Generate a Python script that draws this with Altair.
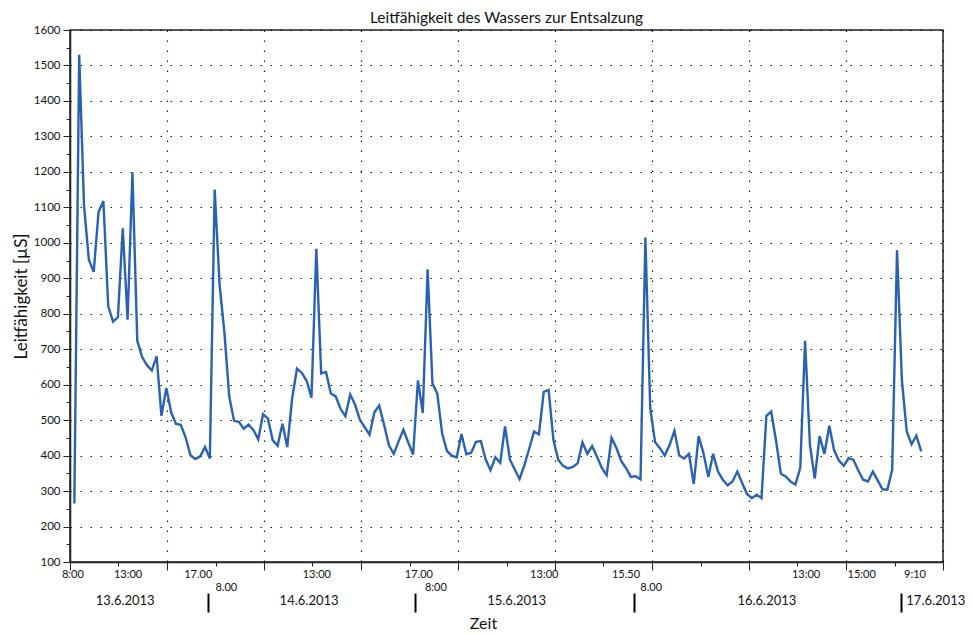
import altair as alt
import pandas as pd

# Conductivity readings (µS), one per sample, in time order
values = [
    265, 1530, 1105, 952, 918, 1087, 1118, 821, 778, 790,
    1041, 783, 1199, 724, 678, 655, 640, 680, 512, 591,
    522, 489, 487, 451, 401, 390, 398, 424, 392, 1150,
    884, 748, 567, 498, 495, 476, 487, 472, 446, 517,
    504, 443, 428, 490, 424, 561, 645, 633, 611, 563,
    983, 632, 636, 575, 567, 532, 511, 572, 544, 501,
    480, 459, 522, 541, 487, 429, 405, 440, 473, 437,
    403, 612, 520, 925, 603, 575, 462, 413, 400, 395,
    461, 404, 408, 439, 441, 389, 359, 395, 380, 482,
    389, 361, 334, 373, 420, 468, 460, 580, 585, 444,
    388, 371, 364, 368, 378, 437, 405, 427, 397, 365,
    345, 450, 422, 385, 365, 340, 342, 333, 1015, 534,
    438, 421, 400, 430, 470, 400, 392, 405, 320, 455,
    407, 340, 405, 355, 332, 316, 327, 355, 323, 292,
    280, 290, 280, 512, 524, 442, 349, 341, 327, 318,
    365, 724, 431, 335, 455, 405, 484, 415, 386, 371,
    393, 388, 358, 332, 327, 355, 330, 305, 304, 360,
    979, 614, 468, 432, 456, 412,
]
sample = list(range(len(values)))

# Axis annotation (positions in sample units)
time_pos = [-0.4, 11.0, 25.5, 50.0, 71.1, 97.0, 113.9, 151.1, 162.6, 173.6]
time_lab = ["8:00", "13:00", "17.00", "13:00", "17.00", "13:00", "15.50", "13:00", "15:00", "9:10"]
start_pos = [31.3, 74.6, 119.1]
start_lab = ["8.00", "8:00", "8.00"]
date_pos = [10.4, 48.4, 91.3, 143.0, 177.9]
date_lab = ["13.6.2013", "14.6.2013", "15.6.2013", "16.6.2013", "17.6.2013"]
sep_pos = [27.6, 70.4, 115.6, 170.8]
y_major = list(range(100, 1601, 100))
y_minor = list(range(150, 1600, 100))

x_lo, x_hi = -0.9, 179.5
step = (x_hi - x_lo) / 9
x_major = [round(x_lo + step * k, 3) for k in range(10)]
x_minor = [round(x_lo + step * (k + 0.5), 3) for k in range(9)]

df = pd.DataFrame({"t": sample, "v": values})

xscale = alt.Scale(domain=[x_lo, x_hi], nice=False, zero=False)
yscale = alt.Scale(domain=[100, 1600], nice=False, zero=False)


def lab_expr(pos, lab):
    arr = "[" + ",".join("'" + s + "'" for s in lab) + "]"
    p = "[" + ",".join(repr(float(q)) for q in pos) + "]"
    return arr + "[indexof(" + p + ", datum.value)]"


base = alt.Chart(df)

line = base.mark_line(color="#2a62b2", strokeWidth=2.4).encode(
    x=alt.X("t:Q", scale=xscale, axis=alt.Axis(
        values=x_major, labels=False, tickSize=8, grid=True, title="Zeit",
        titleX=413, titleY=53, titleFontSize=16, titleBaseline="top")),
    y=alt.Y("v:Q", scale=yscale, axis=alt.Axis(
        values=y_major, tickSize=7, grid=True, format="d", labelPadding=3,
        labelFontSize=11.5, title="Leitfähigkeit [µS]", titleX=-40, titleY=266,
        titleFontSize=17)),
)

minor = base.mark_point(opacity=0).encode(
    x=alt.X("t:Q", scale=xscale, axis=alt.Axis(
        orient="bottom", values=x_minor, labels=False, tickSize=4, grid=False,
        domain=False, title=None)),
    y=alt.Y("v:Q", scale=yscale, axis=alt.Axis(
        orient="left", values=y_minor, labels=False, tickSize=4, grid=False,
        domain=False, title=None)),
)


def label_layer(pos, lab, pad, size):
    return base.mark_point(opacity=0).encode(
        x=alt.X("t:Q", scale=xscale, axis=alt.Axis(
            orient="bottom", values=pos, labelExpr=lab_expr(pos, lab),
            ticks=False, tickSize=0, domain=False, grid=False,
            labelPadding=pad, labelFontSize=size, labelOverlap=False,
            labelFlush=False, labelBound=False, labelAngle=0, title=None)),
        y=alt.Y("v:Q", scale=yscale, axis=None),
    )


row_time = label_layer(time_pos, time_lab, 6, 11)
row_start = label_layer(start_pos, start_lab, 19, 11)
row_date = label_layer(date_pos, date_lab, 32, 13)

seps = base.mark_point(opacity=0).encode(
    x=alt.X("t:Q", scale=xscale, axis=alt.Axis(
        orient="bottom", values=sep_pos, labels=False, tickSize=19,
        tickWidth=2, tickColor="black", domain=False, grid=False, offset=31,
        title=None)),
    y=alt.Y("v:Q", scale=yscale, axis=None),
)

chart = (
    alt.layer(line, minor, row_time, row_start, row_date, seps)
    .resolve_axis(x="independent", y="independent")
    .properties(
        width=873, height=532,
        autosize=alt.AutoSizeParams(type="none"),
        padding={"left": 62, "top": 22, "right": 24, "bottom": 70},
        title=alt.TitleParams("Leitfähigkeit des Wassers zur Entsalzung",
                              fontSize=15.5, font="Lato", fontWeight="normal",
                              color="#111", offset=8, dy=10, anchor="middle"),
    )
    .configure_view(stroke="#222", strokeWidth=1.5)
    .configure_axis(
        labelFont="Lato", titleFont="Lato", labelColor="#111",
        titleColor="#111", titleFontWeight="normal", domainColor="#222",
        domainWidth=1.5, tickColor="#222", gridColor="black",
        gridDash=[1.5, 8.5], gridWidth=1.2, gridOpacity=0.9,
    )
)

chart.save("out.html", embed_options={"renderer": "svg", "actions": False})
